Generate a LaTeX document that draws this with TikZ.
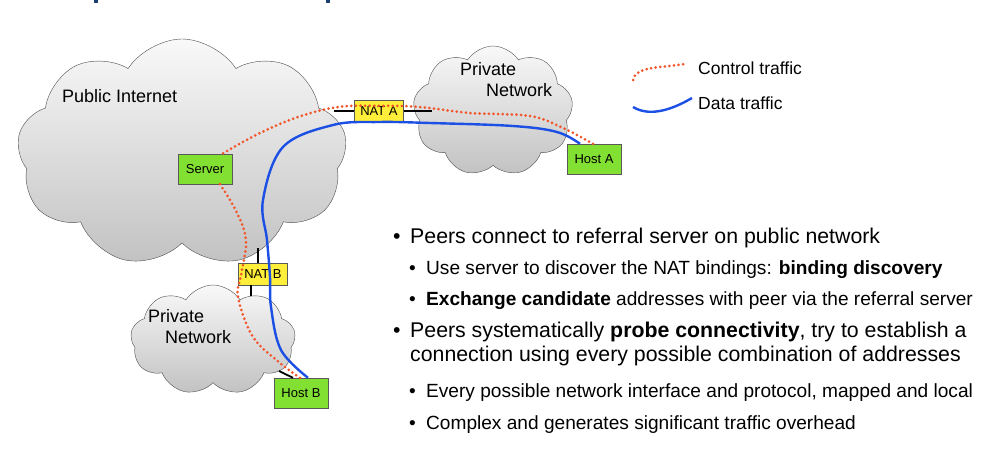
\documentclass[tikz,border=0pt]{standalone}
\usepackage{fontspec}
\setmainfont{Liberation Sans}
\usetikzlibrary{shapes.symbols}

\definecolor{ctrlred}{HTML}{F2562B}
\definecolor{datablue}{HTML}{1C4FE3}
\definecolor{hostgreen}{HTML}{82E033}
\definecolor{natyellow}{HTML}{FFEF3A}
\definecolor{titleblue}{HTML}{1B3F73}

\begin{document}
\begin{tikzpicture}[x=1pt,y=-1pt,
    net/.style={cloud,cloud puffs=9,cloud puff arc=115,cloud ignores aspect,
                draw=black!70,thin,top color=gray!5,bottom color=gray!48},
    host/.style={draw=black!65,fill=hostgreen,minimum width=54pt,minimum height=30pt,
                 inner sep=1pt,font=\fontsize{13}{15}\selectfont},
    nat/.style={draw=black!65,fill=natyellow,minimum width=49pt,minimum height=22pt,
                inner sep=1pt,font=\fontsize{13}{15}\selectfont},
    netlabel/.style={align=left,inner sep=0pt,font=\fontsize{18}{21}\selectfont},
    link/.style={black,line width=1.8pt},
    ctrl/.style={ctrlred,line width=3pt,line cap=round,dash pattern=on 0pt off 4.6pt},
    data/.style={datablue,line width=2.4pt},
    lvlone/.style={anchor=base west,inner sep=0pt,font=\fontsize{21.3}{25}\selectfont},
    lvltwo/.style={anchor=base west,inner sep=0pt,font=\fontsize{19.1}{22}\selectfont}]

	\useasboundingbox (0,0) rectangle (1006,474);

	% what is left of the title
	\fill[titleblue] (94,0) rectangle (98,3);
	\fill[titleblue] (326,0) rectangle (330,3);

	% networks
	\node[net,minimum width=330pt,minimum height=228pt] (pubnet) at (182,153) {};
	\node[net,minimum width=160pt,minimum height=130pt] (privA) at (493,111) {};
	\node[net,minimum width=165pt,minimum height=110pt] (privB) at (213,340) {};

	\node[netlabel,anchor=west] (pubtxt) at (62,96) {Public Internet};
	\node[netlabel,anchor=north west] (privAtxt) at (460,62) {Private\\\hspace*{26pt}Network};
	\node[netlabel,anchor=north west] (privBtxt) at (148,309) {Private\\\hspace*{17pt}Network};

	% attachment points on the clouds
	\coordinate (pubA) at (334,111);
	\coordinate (privAin) at (432,111);
	\coordinate (pubB) at (258,248);
	\coordinate (privBin) at (251,296);
	\coordinate (privBhost) at (279,371);

	% boxes
	\node[host] (server) at (205,169) {Server};
	\node[nat] (natA) at (379,111) {NAT A};
	\node[host] (hostA) at (594,159) {Host A};
	\node[nat] (natB) at (263,274) {NAT B};
	\node[host] (hostB) at (301,393) {Host B};

	\draw[link] (pubA) -- (natA.west);
	\draw[link] (natA.east) -- (privAin);
	\draw[link] (pubB) -- (natB.north west -| pubB);
	\draw[link] (natB.south west -| privBin) -- (privBin);
	\draw[link] (privBhost) -- ([xshift=-8pt]hostB.north);

	% traffic
	\draw[ctrl] plot[smooth,tension=0.6] coordinates {([xshift=-1pt]hostA.north) (563,128) (530,116) (470,113)
		(420,107) ([yshift=-6pt]natA.north) (338,107) (298,117) (258,134) ([xshift=-10pt]server.north east)};
	\draw[ctrl] plot[smooth,tension=0.6] coordinates {([xshift=15pt]server.south) (236,211) (246,240)
		([xshift=3pt]natB.west) (238,297) (253,337) (280,363) ([xshift=-1pt]hostB.north)};
	\draw[data] plot[smooth,tension=0.6] coordinates {([xshift=-14pt]hostA.north) (557,132) (513,126)
		(430,123) (379,122) (333,125) (283,147) (263,200) (267,240) (270,277) (271,307) (281,350)
		([xshift=7pt]hostB.north)};

	% legend
	\coordinate (ctrlA) at (633,80);
	\coordinate (ctrlB) at (685,64);
	\coordinate (dataA) at (633,107);
	\coordinate (dataB) at (692,98);
	\draw[ctrl] (ctrlA) .. controls (636,66) and (660,68) .. (ctrlB);
	\draw[data] (dataA) .. controls (648,116) and (668,112) .. (dataB);
	\node[netlabel,anchor=west,font=\fontsize{17.5}{20}\selectfont] (ctrltxt) at (698,68) {Control traffic};
	\node[netlabel,anchor=west,font=\fontsize{17.5}{20}\selectfont] (datatxt) at (698,103) {Data traffic};

	% bullets
	\node[lvlone] (b1) at (393,243) {\makebox[17pt][l]{\textbullet}Peers connect to referral server on public network};
	\node[lvltwo] (b1a) at (409,274) {\makebox[17pt][l]{\textbullet}Use server to discover the NAT bindings: \textbf{binding discovery}};
	\node[lvltwo] (b1b) at (409,305) {\makebox[17pt][l]{\textbullet}\textbf{Exchange candidate} addresses with peer via the referral server};
	\node[lvlone] (b2) at (393,337) {\makebox[17pt][l]{\textbullet}Peers systematically \textbf{probe connectivity}, try to establish a};
	\node[lvlone] (b2c) at (410,361) {connection using every possible combination of addresses};
	\node[lvltwo] (b2a) at (409,397) {\makebox[17pt][l]{\textbullet}Every possible network interface and protocol, mapped and local};
	\node[lvltwo] (b2b) at (409,429) {\makebox[17pt][l]{\textbullet}Complex and generates significant traffic overhead};
\end{tikzpicture}
\end{document}
